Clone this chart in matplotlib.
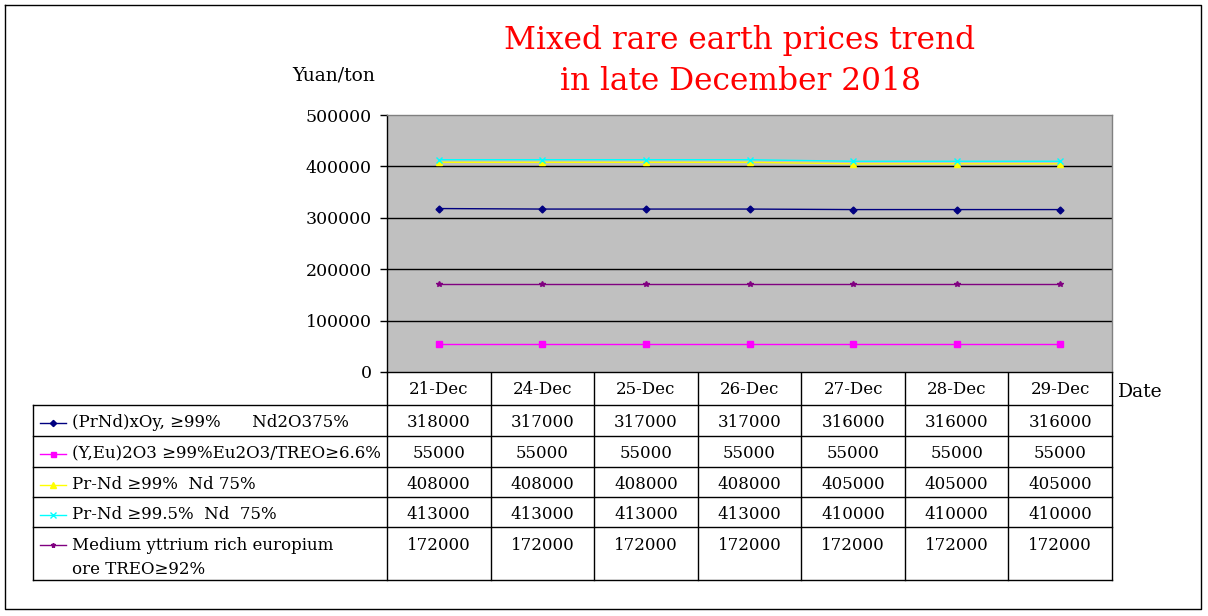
import matplotlib
matplotlib.use("Agg")
import matplotlib.pyplot as plt
import numpy as np

dates = ["21-Dec", "24-Dec", "25-Dec", "26-Dec", "27-Dec", "28-Dec", "29-Dec"]
series_names = [
    "(PrNd)xOy, ≥99%      Nd2O375%",
    "(Y,Eu)2O3 ≥99%Eu2O3/TREO≥6.6%",
    "Pr-Nd ≥99%  Nd 75%",
    "Pr-Nd ≥99.5%  Nd  75%",
    "Medium yttrium rich europium\nore TREO≥92%",
]
prnd_oxide = [318000, 317000, 317000, 317000, 316000, 316000, 316000]
y_eu_oxide = [55000, 55000, 55000, 55000, 55000, 55000, 55000]
prnd_99 = [408000, 408000, 408000, 408000, 405000, 405000, 405000]
prnd_995 = [413000, 413000, 413000, 413000, 410000, 410000, 410000]
med_yttrium = [172000, 172000, 172000, 172000, 172000, 172000, 172000]
series_values = [prnd_oxide, y_eu_oxide, prnd_99, prnd_995, med_yttrium]
y_ticks = [0, 100000, 200000, 300000, 400000, 500000]

colors = ["#000080", "#FF00FF", "#FFFF00", "#00FFFF", "#800080"]
markers = ["D", "s", "^", "x", "*"]
msizes = [3.5, 4, 5, 5, 4]

FONT = "DejaVu Serif"
W, H = 1208, 616
fig = plt.figure(figsize=(W / 100, H / 100), dpi=100)
fig.patch.set_facecolor("white")

# pixel overlay
ov = fig.add_axes([0, 0, 1, 1], zorder=0)
ov.set_xlim(0, W)
ov.set_ylim(H, 0)
ov.axis("off")

# plot area
L, R, T, B = 387, 1112, 115, 372
ax = fig.add_axes([L / W, 1 - B / H, (R - L) / W, (B - T) / H], zorder=1)
ax.set_facecolor("#C0C0C0")
n = len(dates)
x = np.arange(n)
ax.set_xlim(-0.5, n - 0.5)
ax.set_ylim(0, 500000)
ax.set_yticks(y_ticks)
ax.set_yticklabels([str(v) for v in y_ticks], fontfamily=FONT, fontsize=12.5)
ax.tick_params(axis="y", direction="out", length=5, width=1, pad=6, colors="black")
ax.set_xticks([])
for yv in y_ticks[1:-1]:
    ax.axhline(yv, color="black", lw=1, zorder=1)
ax.spines["left"].set_color("black")
ax.spines["bottom"].set_color("black")
ax.spines["top"].set_color("#808080")
ax.spines["right"].set_color("#808080")
for s in ax.spines.values():
    s.set_linewidth(1)

draw_order = [4, 1, 0, 2, 3]
for i in draw_order:
    ax.plot(x, series_values[i], color=colors[i], lw=1.0, marker=markers[i],
            ms=msizes[i], mec=colors[i], mfc=colors[i], mew=1.0, zorder=3 + i)

# title and axis labels
ov.text(740, 40, "Mixed rare earth prices trend", color="red", fontsize=22.5,
        fontfamily=FONT, ha="center", va="center")
ov.text(740, 81, "in late December 2018", color="red", fontsize=22.5,
        fontfamily=FONT, ha="center", va="center")
ov.text(333.5, 75, "Yuan/ton", fontsize=13.5, fontfamily=FONT, ha="center", va="center")
ov.text(1118, 392, "Date", fontsize=13.5, fontfamily=FONT, ha="left", va="center")

# outer border
ov.plot([5, 1201, 1201, 5, 5], [5, 5, 609, 609, 5], color="black", lw=1)

# data table
colw = (R - L) / n
col_edges = [L + colw * k for k in range(n + 1)]
row_edges = [405, 436, 467, 497, 527, 580]
lab_left = 33
for yv in row_edges:
    ov.plot([lab_left, R], [yv, yv], color="black", lw=1)
ov.plot([lab_left, lab_left], [row_edges[0], row_edges[-1]], color="black", lw=1)
for xe in col_edges:
    ov.plot([xe, xe], [B, row_edges[-1]], color="black", lw=1)

for k, d in enumerate(dates):
    ov.text(col_edges[k] + colw / 2, 390, d, fontsize=12, fontfamily=FONT,
            ha="center", va="center")

for r in range(len(series_names)):
    top = row_edges[r]
    yc = top + 17.5 if r < 4 else top + 18
    # legend key
    ov.plot([40, 66], [yc, yc], color=colors[r], lw=1)
    ov.plot([53], [yc], color=colors[r], marker=markers[r], ms=msizes[r] * 0.9,
            mec=colors[r], mfc=colors[r])
    lines = series_names[r].split("\n")
    for j, ln in enumerate(lines):
        ov.text(72, yc + j * 25, ln, fontsize=12, fontfamily=FONT,
                ha="left", va="center")
    for k in range(n):
        ov.text(col_edges[k] + colw / 2, yc, str(series_values[r][k]), fontsize=12,
                fontfamily=FONT, ha="center", va="center")

fig.savefig("out.png", dpi=100)
